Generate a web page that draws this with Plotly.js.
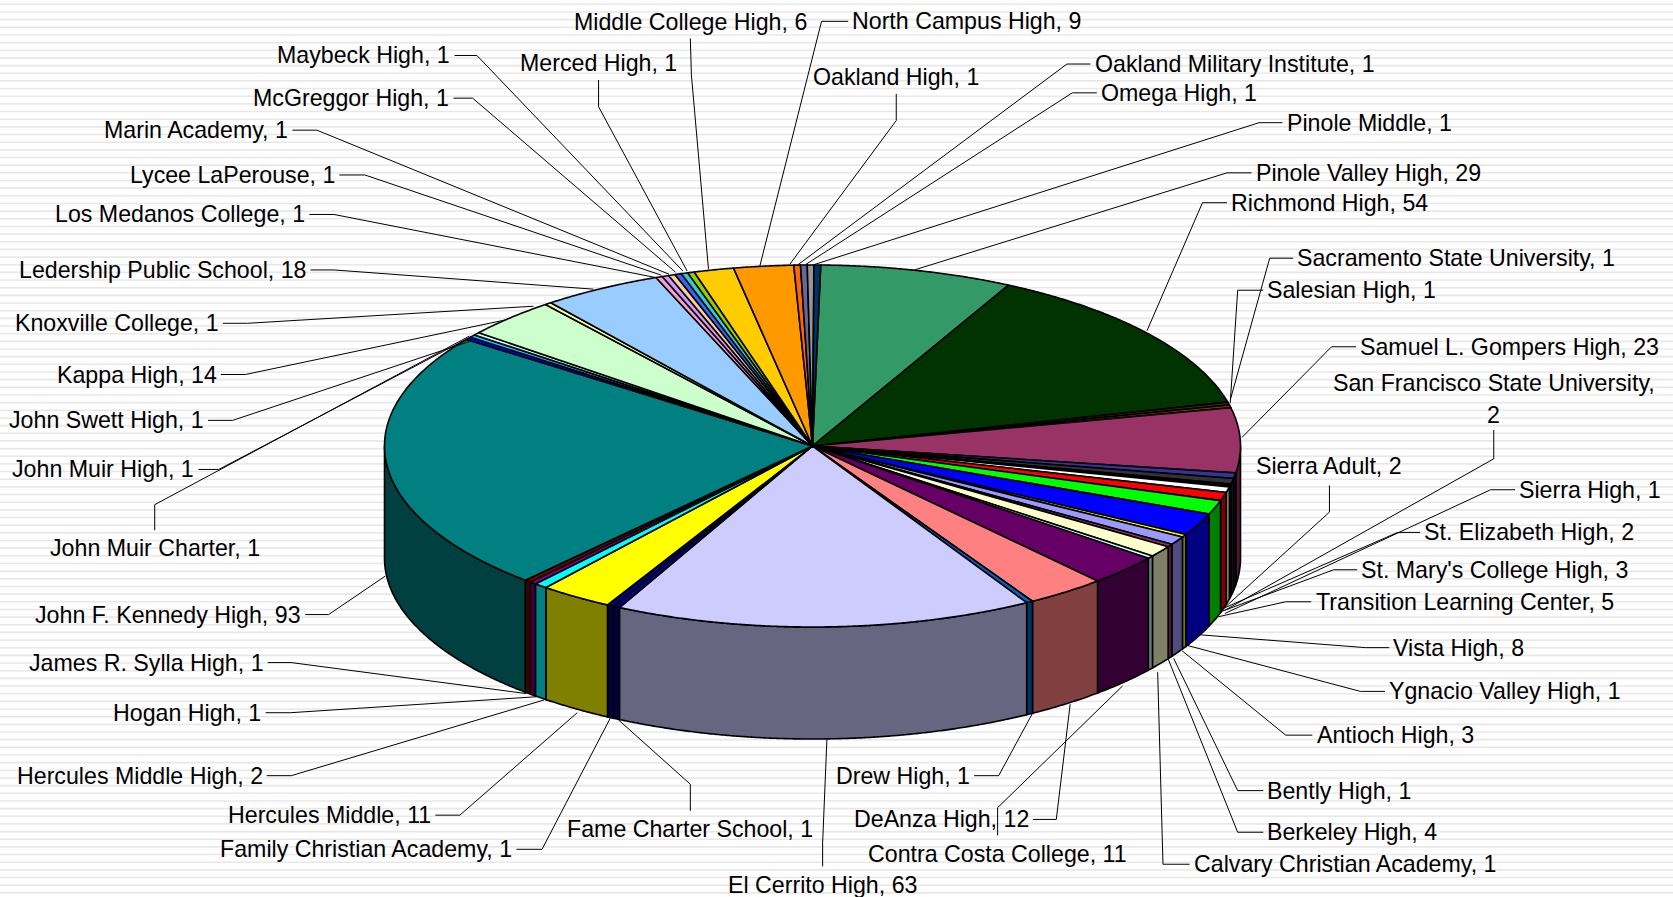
<!DOCTYPE html>
<html><head><meta charset="utf-8">
<script src="https://cdn.plot.ly/plotly-3.0.1.min.js"></script>
<style>html,body{margin:0;padding:0;background:#fff}#c{width:1673px;height:897px}</style>
</head><body><div id="c"></div>
<script>
// Data, clockwise from 12 o'clock
const schools=["Pinole Valley High","Richmond High","Sacramento State University","Salesian High","Samuel L. Gompers High","San Francisco State University","Sierra Adult","Sierra High","St. Elizabeth High","St. Mary's College High","Transition Learning Center","Vista High","Ygnacio Valley High","Antioch High","Bently High","Berkeley High","Calvary Christian Academy","Contra Costa College","DeAnza High","Drew High","El Cerrito High","Fame Charter School","Family Christian Academy","Hercules Middle","Hercules Middle High","Hogan High","James R. Sylla High","John F. Kennedy High","John Muir Charter","John Muir High","John Swett High","Kappa High","Knoxville College","Ledership Public School","Los Medanos College","Lycee LaPerouse","Marin Academy","McGreggor High","Maybeck High","Merced High","Middle College High","North Campus High","Oakland High","Oakland Military Institute","Omega High","Pinole Middle"];
const counts=[29,54,1,1,23,2,2,1,2,3,5,8,1,3,1,4,1,11,12,1,63,1,1,11,2,1,1,93,1,1,1,14,1,18,1,1,1,1,1,1,6,9,1,1,1,1];
const topColors=["#339966","#003300","#333300","#993300","#993366","#333399","#333333","#000000","#FFFFFF","#FF0000","#00FF00","#0000FF","#FFFF00","#9999FF","#993366","#FFFFCC","#CCFFFF","#660066","#FF8080","#0066CC","#CCCCFF","#000080","#000080","#FFFF00","#00FFFF","#800080","#800000","#008080","#0000FF","#00CCFF","#CCFFFF","#CCFFCC","#FFFF99","#99CCFF","#FF99CC","#CC99FF","#FFCC99","#3366FF","#33CCCC","#99CC00","#FFCC00","#FF9900","#FF6600","#666699","#969696","#003366"];

// Label placement, in the 1568-wide reference coordinates: [anchor, x, y, stub1x, stub1y, stub2x, stub2y, tipx, tipy]
const placement=[
["l",1176,162,1173,162,1150,162,857,253],["l",1153,190,1150,190,1127,190,1075,310],["l",1215,242,1212,242,1190,242,1153,375],["l",1187,272,1184,272,1160,272,1153,378],["l",1274,325,1271,325,1248,325,1164,410],
["c",1400,359,1400,403,1400,430,1148,572],["c",1246,437,1246,455,1246,480,1145,572],["l",1423,459,1420,459,1397,459,1148,575],["l",1334,499,1331,499,1310,499,1147,570],["l",1275,534,1272,534,1250,534,1145,573],
["l",1232,564,1229,564,1205,564,1142,578],["l",1305,607,1302,607,1280,607,1125,595],["l",1301,648,1298,648,1275,648,1113,605],["l",1233,689,1230,689,1205,689,1108,610],["l",1187,741,1184,741,1160,741,1100,617],
["l",1187,780,1184,780,1160,780,1095,618],["l",1118,810,1115,810,1090,810,1085,630],["c",935,800,935,783,935,757,1052,643],["r",965,768,968,768,990,768,1003,660],["r",910,727,913,727,936,727,968,668],
["c",771,829,771,812,771,790,775,693],["c",647,777,647,760,647,735,580,675],["r",481,796,484,796,508,796,572,673],["r",405,764,408,764,431,764,541,668],["r",247,727,250,727,273,727,510,656],
["r",246,668,249,668,272,668,503,653],["r",248,621,251,621,273,621,493,650],["r",283,576,286,576,308,576,361,540],["c",145,514,145,497,145,473,440,315],["r",183,440,186,440,205,440,437,318],
["r",192,394,195,394,218,394,440,320],["r",204,351,207,351,230,351,473,300],["r",206,303,209,303,232,303,500,287],["r",288,253,291,253,313,253,556,271],["r",287,201,290,201,313,201,614,260],
["r",315,164,318,164,342,164,620,258],["r",271,122,274,122,297,122,627,257],["r",422,92,425,92,443,92,633,255],["r",423,52,426,52,447,52,640,254],["c",561,59,561,75,561,100,644,254],
["c",647,21,647,36,648,70,664,252],["l",798,20,795,20,770,20,712,250],["c",840,72,840,88,840,113,740,248],["l",1025,60,1022,60,1000,60,748,248],["l",1031,87,1028,87,1005,87,755,248],["l",1205,115,1202,115,1180,115,763,248]
];

const k=1673/1568, cx=812.5, cy=446, rx=428, ry=181, depth=112, fontPx=23.2, startDeg=1.1;
const total=counts.reduce((a,b)=>a+b,0);
const rim=(deg,dy=0)=>{const t=deg*Math.PI/180;return [cx+rx*Math.sin(t),cy-ry*Math.cos(t)+dy];};
function darken(h){return '#'+[1,3,5].map(i=>Math.round(parseInt(h.substr(i,2),16)/2).toString(16).padStart(2,'0')).join('');}
function poly(pts,color,name){return {type:'scatter',mode:'lines',x:pts.map(p=>p[0]),y:pts.map(p=>p[1]),fill:'toself',fillcolor:color,line:{color:'#000',width:1.6,simplify:false},hoverinfo:'text',text:name,showlegend:false};}

let run=0; const spans=counts.map(v=>{const s=[startDeg+run*360/total,startDeg+(run+v)*360/total];run+=v;return s;});
const traces=[];
// side wall, front half only
spans.forEach((s,i)=>{const a=Math.max(s[0],90),b=Math.min(s[1],270);if(b<=a)return;
  const upper=[],lower=[];for(let d=a;d<b;d+=0.25){upper.push(rim(d));lower.push(rim(d,depth));}
  upper.push(rim(b));lower.push(rim(b,depth));
  traces.push(poly(upper.concat(lower.reverse(),[upper[0]]),darken(topColors[i]),schools[i]+', '+counts[i]));});
// top faces
spans.forEach((s,i)=>{const pts=[[cx,cy]];for(let d=s[0];d<s[1];d+=0.25)pts.push(rim(d));pts.push(rim(s[1]),[cx,cy]);
  traces.push(poly(pts,topColors[i],schools[i]+', '+counts[i]));});
// leader lines
const lx=[],ly=[];placement.forEach(p=>{lx.push(p[3]*k,p[5]*k,p[7]*k,null);ly.push(p[4]*k,p[6]*k,p[8]*k,null);});
traces.push({type:'scatter',mode:'lines',x:lx,y:ly,line:{color:'#000',width:1},hoverinfo:'skip',showlegend:false});

// labels
const anchors={l:'left',r:'right',c:'center'};
const annotations=[];
schools.forEach((n,i)=>{const p=placement[i];
  const lines=(n==="San Francisco State University")?[n+',',String(counts[i])]:[n+', '+counts[i]];
  lines.forEach((t,j)=>annotations.push({text:t,x:p[1]*k,y:p[2]*k+j*32,xref:'x',yref:'y',xanchor:anchors[p[0]],yanchor:'middle',showarrow:false,borderpad:0,font:{family:'"Liberation Sans",Arial,sans-serif',size:fontPx,color:'#000'}}));
});
// striped backdrop
const shapes=[];for(let y=4.3;y<897;y+=7.66)shapes.push({type:'line',xref:'paper',yref:'y',x0:0,x1:1,y0:y,y1:y,layer:'below',line:{color:'#e8e8e8',width:1.6}});

Plotly.newPlot('c',traces,{width:1673,height:897,margin:{l:0,r:0,t:0,b:0},paper_bgcolor:'#fff',plot_bgcolor:'rgba(0,0,0,0)',
  xaxis:{range:[0,1673],visible:false,fixedrange:true},yaxis:{range:[897,0],visible:false,fixedrange:true},shapes,annotations,showlegend:false},{displayModeBar:false,staticPlot:true});
</script></body></html>
